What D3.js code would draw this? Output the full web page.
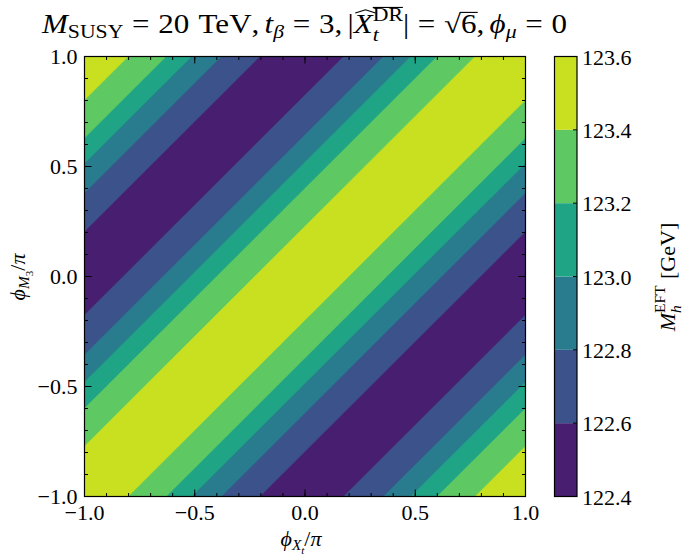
<!DOCTYPE html>
<html>
<head>
<script src="https://d3js.org/d3.v7.min.js"></script>
<style>
  body { margin: 0; background: #fff; }
  svg text { font-family: "Liberation Serif", "DejaVu Serif", serif; fill: #000; white-space: pre; }
</style>
</head>
<body>
<svg id="chart" width="685" height="556"></svg>
<script>
// grid of phases (units of pi)
const phiXt = [-1.0, -0.9, -0.8, -0.7, -0.6, -0.5, -0.4, -0.3, -0.2, -0.1, 0.0,
               0.1, 0.2, 0.3, 0.4, 0.5, 0.6, 0.7, 0.8, 0.9, 1.0];
const phiM3 = [-1.0, -0.9, -0.8, -0.7, -0.6, -0.5, -0.4, -0.3, -0.2, -0.1, 0.0,
               0.1, 0.2, 0.3, 0.4, 0.5, 0.6, 0.7, 0.8, 0.9, 1.0];

const phiDiff = [-2.0, -1.9, -1.8, -1.7, -1.6, -1.5, -1.4, -1.3, -1.2, -1.1, -1.0,
                 -0.9, -0.8, -0.7, -0.6, -0.5, -0.4, -0.3, -0.2, -0.1, 0.0,
                 0.1, 0.2, 0.3, 0.4, 0.5, 0.6, 0.7, 0.8, 0.9, 1.0,
                 1.1, 1.2, 1.3, 1.4, 1.5, 1.6, 1.7, 1.8, 1.9, 2.0];
const mhProfile = [123.58, 123.55, 123.44, 123.30, 123.201, 123.04, 122.84, 122.75, 122.63, 122.51, 122.47,
                   122.50, 122.596, 122.68, 122.83, 122.98, 123.12, 123.39, 123.398, 123.50, 123.58,
                   123.55, 123.44, 123.30, 123.201, 123.04, 122.84, 122.75, 122.63, 122.51, 122.47,
                   122.50, 122.596, 122.68, 122.83, 122.98, 123.12, 123.39, 123.398, 123.50, 123.58];

const levels = [122.4, 122.6, 122.8, 123.0, 123.2, 123.4, 123.6];
const levelLabels = ["122.4", "122.6", "122.8", "123.0", "123.2", "123.4", "123.6"];
const axisTicks = [-1.0, -0.5, 0.0, 0.5, 1.0];
const axisTickLabels = ["\u22121.0", "\u22120.5", "0.0", "0.5", "1.0"];

const svg = d3.select("#chart");
const pLeft = 84.5, pRight = 525.5, pTop = 56.5, pBottom = 496.5;
const x = d3.scaleLinear().domain([-1, 1]).range([pLeft, pRight]);
const y = d3.scaleLinear().domain([-1, 1]).range([pBottom, pTop]);

const nBands = levels.length - 1;
const bandColor = i => d3.interpolateViridis((i + 0.5) / nBands);

// build the grid values
const nx = phiXt.length, ny = phiM3.length;
const values = new Array(nx * ny);
for (let j = 0; j < ny; j++) {
  for (let i = 0; i < nx; i++) {
    values[j * nx + i] = mhProfile[j - i + nx - 1];
  }
}

const contours = d3.contours().size([nx, ny]).thresholds(levels.slice(0, -1))(values);
const step = phiXt[1] - phiXt[0];
const gridPath = d3.geoPath(d3.geoTransform({
  point: function(gx, gy) {
    this.stream.point(x(phiXt[0] + (gx - 0.5) * step), y(phiM3[0] + (gy - 0.5) * step));
  }
}));

svg.append("clipPath").attr("id", "plotclip")
  .append("rect").attr("x", pLeft).attr("y", pTop)
  .attr("width", pRight - pLeft).attr("height", pBottom - pTop);

svg.append("g").attr("clip-path", "url(#plotclip)")
  .selectAll("path")
  .data(contours)
  .enter()
  .append("path")
  .attr("d", gridPath)
  .attr("fill", (d, i) => bandColor(i))
  .attr("stroke", (d, i) => bandColor(i))
  .attr("stroke-width", 0.4);

// frame + inward ticks on all sides
const axes = svg.append("g").attr("stroke", "#000");
const minor = x.ticks(20);
const drawTicks = (vals, len) => {
  vals.forEach(v => {
    axes.append("line").attr("x1", x(v)).attr("x2", x(v)).attr("y1", pBottom).attr("y2", pBottom - len);
    axes.append("line").attr("x1", x(v)).attr("x2", x(v)).attr("y1", pTop).attr("y2", pTop + len);
    axes.append("line").attr("y1", y(v)).attr("y2", y(v)).attr("x1", pLeft).attr("x2", pLeft + len);
    axes.append("line").attr("y1", y(v)).attr("y2", y(v)).attr("x1", pRight).attr("x2", pRight - len);
  });
};
drawTicks(minor, 3.5);
drawTicks(axisTicks, 7);
axes.selectAll("line").attr("stroke-width", 1);
axes.append("rect").attr("x", pLeft).attr("y", pTop)
  .attr("width", pRight - pLeft).attr("height", pBottom - pTop)
  .attr("fill", "none").attr("stroke-width", 1.2);

const fs = 22;
axisTicks.forEach((v, i) => {
  svg.append("text").attr("x", x(v)).attr("y", pBottom + 23.5)
    .attr("text-anchor", "middle").style("font-size", fs + "px").text(axisTickLabels[i]);
  svg.append("text").attr("x", pLeft - 7).attr("y", y(v) + 7.5)
    .attr("text-anchor", "end").style("font-size", fs + "px").text(axisTickLabels[i]);
});

// colorbar
const cbLeft = 554.5, cbRight = 577;
const cy = d3.scaleLinear().domain([levels[0], levels[levels.length - 1]]).range([pBottom, pTop]);
const cb = svg.append("g");
cb.selectAll("rect").data(d3.range(nBands)).enter().append("rect")
  .attr("x", cbLeft).attr("width", cbRight - cbLeft)
  .attr("y", i => cy(levels[i + 1])).attr("height", i => cy(levels[i]) - cy(levels[i + 1]))
  .attr("fill", i => bandColor(i));
cb.append("rect").attr("x", cbLeft).attr("y", pTop).attr("width", cbRight - cbLeft)
  .attr("height", pBottom - pTop).attr("fill", "none").attr("stroke", "#000").attr("stroke-width", 1.2);
levels.forEach((v, i) => {
  cb.append("line").attr("x1", cbRight).attr("x2", cbRight - 4).attr("y1", cy(v)).attr("y2", cy(v))
    .attr("stroke", "#000").attr("stroke-width", 1);
  cb.append("text").attr("x", cbRight + 5).attr("y", cy(v) + 8)
    .style("font-size", fs + "px").text(levelLabels[i]);
});

// small math-like text layout: pieces laid out left to right
function mathLabel(parent, parts, size) {
  const g = parent.append("g");
  let cx = 0, prev = null;
  parts.forEach(p => {
    const s = size * (p.sc || 1);
    const x0 = p.stack ? prev.x0 : cx + (p.dx || 0) * size;
    const t = g.append("text")
      .attr("x", x0).attr("y", (p.dy || 0) * size)
      .style("font-size", s + "px")
      .style("font-style", p.it ? "italic" : "normal")
      .text(p.t);
    const w = t.node().getComputedTextLength();
    p.x0 = x0; p.w = w; p.s = s;
    cx = p.stack ? Math.max(prev.x0 + prev.w, x0 + w) : x0 + w;
    if (p.hat) {
      const hy = -0.76 * size;
      g.append("path")
        .attr("d", `M${x0 + 0.08 * w},${hy} L${x0 + 0.62 * w},${hy - 0.12 * size} L${x0 + 1.15 * w},${hy}`)
        .attr("fill", "none").attr("stroke", "#000").attr("stroke-width", 1.1);
    }
    if (p.bar) {
      const by = (p.dy || 0) * size - 0.74 * s;
      g.append("line").attr("x1", x0).attr("x2", x0 + w).attr("y1", by).attr("y2", by)
        .attr("stroke", "#000").attr("stroke-width", 1.1);
    }
    if (p.vinc) {
      const vy = -0.78 * size;
      g.append("line").attr("x1", x0 - 1).attr("x2", x0 + w + 1).attr("y1", vy).attr("y2", vy)
        .attr("stroke", "#000").attr("stroke-width", 1.1);
    }
    prev = p;
  });
  return { g: g, width: cx };
}

// title
const title = mathLabel(svg, [
  { t: "M", it: true },
  { t: "SUSY", sc: 0.7, dy: 0.2 },
  { t: "=", dx: 0.28 },
  { t: "20", dx: 0.28 },
  { t: "TeV", dx: 0.3 },
  { t: "," },
  { t: "t", it: true, dx: 0.17 },
  { t: "\u03b2", it: true, sc: 0.7, dy: 0.2 },
  { t: "=", dx: 0.28 },
  { t: "3", dx: 0.28 },
  { t: "," },
  { t: "|", dx: 0.17 },
  { t: "X", it: true, hat: true },
  { t: "t", it: true, sc: 0.7, dy: 0.3 },
  { t: "DR", sc: 0.7, dy: -0.45, stack: true, bar: true },
  { t: "|" },
  { t: "=", dx: 0.28 },
  { t: "\u221a", dx: 0.28 },
  { t: "6", vinc: true },
  { t: "," },
  { t: "\u03d5", it: true, dx: 0.17 },
  { t: "\u03bc", it: true, sc: 0.7, dy: 0.2 },
  { t: "=", dx: 0.28 },
  { t: "0", dx: 0.28 }
], 26.4);
const titleW = 525;
const sx = titleW / title.width;
title.g.attr("transform", `translate(${304.5 - titleW / 2},33) scale(${sx},1)`);

// x label
const xl = mathLabel(svg, [
  { t: "\u03d5", it: true },
  { t: "X", it: true, sc: 0.7, dy: 0.2 },
  { t: "t", it: true, sc: 0.5, dy: 0.36 },
  { t: "/" },
  { t: "\u03c0", it: true }
], fs);
xl.g.attr("transform", `translate(${301 - xl.width / 2},546)`);

// y label
const yl = mathLabel(svg, [
  { t: "\u03d5", it: true },
  { t: "M", it: true, sc: 0.7, dy: 0.2 },
  { t: "3", sc: 0.5, dy: 0.36 },
  { t: "/" },
  { t: "\u03c0", it: true }
], fs);
yl.g.attr("transform", `translate(25,${277 + yl.width / 2}) rotate(-90)`);

// colorbar label
const cl = mathLabel(svg, [
  { t: "M", it: true },
  { t: "EFT", sc: 0.7, dy: -0.45 },
  { t: "h", it: true, sc: 0.7, dy: 0.25, stack: true },
  { t: "[GeV]", dx: 0.3 }
], fs);
cl.g.attr("transform", `translate(675,${277 + cl.width / 2}) rotate(-90)`);
</script>
</body>
</html>
